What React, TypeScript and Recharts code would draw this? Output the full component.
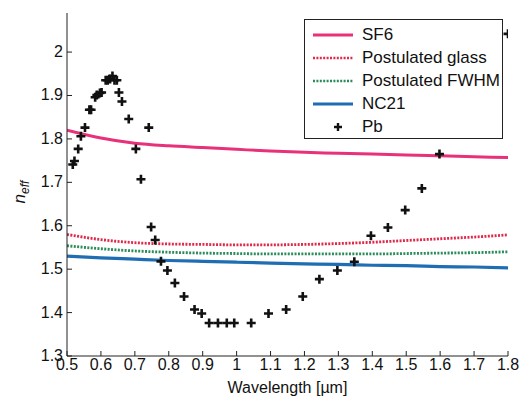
import {
  ComposedChart,
  Line,
  Scatter,
  XAxis,
  YAxis,
} from "recharts";

const wavelengths = [0.5, 0.6, 0.7, 0.8, 0.9, 1.0, 1.1, 1.2, 1.3, 1.4, 1.5, 1.6, 1.7, 1.8];
const sf6 = [1.82, 1.802, 1.79, 1.784, 1.78, 1.776, 1.772, 1.769, 1.767, 1.765, 1.763, 1.761, 1.759, 1.757];
const postGlass = [1.58, 1.568, 1.561, 1.558, 1.557, 1.556, 1.556, 1.557, 1.559, 1.562, 1.566, 1.57, 1.574, 1.579];
const postFwhm = [1.554, 1.547, 1.542, 1.539, 1.537, 1.536, 1.535, 1.535, 1.535, 1.535, 1.536, 1.537, 1.538, 1.54];
const nc21 = [1.53, 1.526, 1.523, 1.52, 1.518, 1.516, 1.514, 1.512, 1.511, 1.509, 1.508, 1.506, 1.505, 1.503];

const pbX = [
  0.517, 0.522, 0.533, 0.541, 0.553, 0.566, 0.571, 0.583, 0.588, 0.597, 0.602,
  0.614, 0.62, 0.627, 0.634, 0.64, 0.647, 0.653, 0.662, 0.682, 0.703, 0.718,
  0.741, 0.748, 0.76, 0.777, 0.796, 0.818, 0.845, 0.876, 0.897, 0.919, 0.945,
  0.971, 0.993, 1.043, 1.094, 1.146, 1.195, 1.244, 1.297, 1.347, 1.396, 1.446,
  1.497, 1.546, 1.598, 1.8,
];
const pbY = [
  1.741, 1.749, 1.777, 1.806, 1.826, 1.867, 1.867, 1.896, 1.901, 1.906, 1.907,
  1.935, 1.935, 1.938, 1.945, 1.935, 1.935, 1.907, 1.886, 1.846, 1.777, 1.707,
  1.826, 1.597, 1.567, 1.518, 1.497, 1.468, 1.437, 1.407, 1.398, 1.376, 1.376,
  1.376, 1.376, 1.376, 1.398, 1.407, 1.437, 1.477, 1.497, 1.517, 1.577, 1.596,
  1.636, 1.686, 1.765, 2.042,
];

const xTicks = [0.5, 0.6, 0.7, 0.8, 0.9, 1.0, 1.1, 1.2, 1.3, 1.4, 1.5, 1.6, 1.7, 1.8];
const yTicks = [1.3, 1.4, 1.5, 1.6, 1.7, 1.8, 1.9, 2.0];

const seriesNames = ["SF6", "Postulated glass", "Postulated FWHM", "NC21", "Pb"];
const seriesColors = ["#e8317a", "#e0284a", "#2a8c5a", "#1f6db3", "#111111"];

const toPoints = (ys: number[]) => wavelengths.map((x, i) => ({ x, y: ys[i] }));
const pbData = pbX.map((x, i) => ({ x, y: pbY[i] }));

const FONT = "'Liberation Sans', Arial, sans-serif";
const AXIS = "#222";

const fmt = (v: number) => (Math.abs(v - Math.round(v)) < 1e-9 ? String(Math.round(v)) : v.toFixed(1));

const BottomTick = (props: any) => {
  const { x, y, payload } = props;
  return (
    <g>
      <line x1={x} x2={x} y1={y} y2={y - 5} stroke={AXIS} />
      <text x={x} y={y + 14} textAnchor="middle" fontSize={16} fontFamily={FONT} fill="#111">
        {fmt(payload.value)}
      </text>
    </g>
  );
};

const TopTick = (props: any) => {
  const { x, y } = props;
  return <line x1={x} x2={x} y1={y} y2={y + 5} stroke={AXIS} />;
};

const LeftTick = (props: any) => {
  const { x, y, payload } = props;
  return (
    <g>
      <line x1={x} x2={x + 5} y1={y} y2={y} stroke={AXIS} />
      <text x={x - 4} y={y + 5} textAnchor="end" fontSize={16} fontFamily={FONT} fill="#111">
        {fmt(payload.value)}
      </text>
    </g>
  );
};

const RightTick = (props: any) => {
  const { x, y } = props;
  return <line x1={x} x2={x - 5} y1={y} y2={y} stroke={AXIS} />;
};

const Plus = (props: any) => {
  const { cx, cy } = props;
  return (
    <path
      d={`M${cx - 4.5},${cy}H${cx + 4.5}M${cx},${cy - 4.5}V${cy + 4.5}`}
      stroke="#111"
      strokeWidth={2.6}
    />
  );
};

const LegendBox = () => (
  <div
    style={{
      position: "absolute",
      left: 304,
      top: 19,
      width: 199,
      height: 120,
      border: "1px solid #222",
      background: "#fff",
      fontFamily: FONT,
      fontSize: 17,
      color: "#111",
      boxSizing: "border-box",
      paddingTop: 3,
    }}
  >
    {seriesNames.map((name, i) => (
      <div key={name} style={{ display: "flex", alignItems: "center", height: 23 }}>
        <svg width={52} height={10} style={{ marginLeft: 6 }}>
          {i === 4 ? (
            <path d="M23,5H31M27,1V9" stroke="#111" strokeWidth={2.4} />
          ) : (
            <line
              x1={2}
              x2={42}
              y1={5}
              y2={5}
              stroke={seriesColors[i]}
              strokeWidth={i === 0 || i === 3 ? 3 : 2.6}
              strokeDasharray={i === 1 || i === 2 ? "2 1.4" : undefined}
            />
          )}
        </svg>
        <span style={{ marginLeft: -1 }}>{name}</span>
      </div>
    ))}
  </div>
);

const NeffLabel = () => (
  <text
    transform="translate(25,192) rotate(-90)"
    textAnchor="middle"
    fontSize={17}
    fontFamily={FONT}
    fill="#111"
  >
    <tspan fontStyle="italic">n</tspan>
    <tspan fontStyle="italic" fontSize={12} dy={4}>eff</tspan>
  </text>
);

export default function App() {
  return (
    <div style={{ position: "absolute", left: 0, top: 0, width: 520, height: 405, background: "#fff" }}>
      <ComposedChart
        width={520}
        height={405}
        margin={{ top: 13, right: 12, bottom: 0, left: 0 }}
      >
        <XAxis
          xAxisId={0}
          type="number"
          dataKey="x"
          domain={[0.5, 1.8]}
          ticks={xTicks}
          allowDataOverflow
          height={49}
          tickSize={0}
          tickMargin={0}
          tick={<BottomTick />}
          stroke={AXIS}
          label={{ value: "Wavelength [µm]", position: "insideBottom", offset: 12, fontSize: 16, fontFamily: FONT, fill: "#111" }}
        />
        <XAxis
          xAxisId="top"
          orientation="top"
          type="number"
          dataKey="x"
          domain={[0.5, 1.8]}
          ticks={xTicks}
          allowDataOverflow
          height={0}
          tickSize={0}
          tickMargin={0}
          tick={<TopTick />}
          stroke={AXIS}
        />
        <YAxis
          yAxisId={0}
          type="number"
          domain={[1.3, 2.09]}
          ticks={yTicks}
          allowDataOverflow
          width={67}
          tickSize={0}
          tickMargin={0}
          tick={<LeftTick />}
          stroke={AXIS}
          label={{ content: () => <NeffLabel /> }}
        />
        <YAxis
          yAxisId="right"
          orientation="right"
          type="number"
          domain={[1.3, 2.09]}
          ticks={yTicks}
          allowDataOverflow
          width={0}
          tickSize={0}
          tickMargin={0}
          tick={<RightTick />}
          stroke={AXIS}
        />
        <Line
          data={toPoints(sf6)}
          dataKey="y"
          type="monotone"
          stroke={seriesColors[0]}
          strokeWidth={3}
          dot={false}
          isAnimationActive={false}
        />
        <Line
          data={toPoints(postGlass)}
          dataKey="y"
          type="monotone"
          stroke={seriesColors[1]}
          strokeWidth={2.8}
          strokeDasharray="2 1.4"
          dot={false}
          isAnimationActive={false}
        />
        <Line
          data={toPoints(postFwhm)}
          dataKey="y"
          type="monotone"
          stroke={seriesColors[2]}
          strokeWidth={2.8}
          strokeDasharray="2 1.4"
          dot={false}
          isAnimationActive={false}
        />
        <Line
          data={toPoints(nc21)}
          dataKey="y"
          type="monotone"
          stroke={seriesColors[3]}
          strokeWidth={3.2}
          dot={false}
          isAnimationActive={false}
        />
        <Scatter data={pbData} dataKey="y" shape={<Plus />} isAnimationActive={false} />
      </ComposedChart>
      <LegendBox />
    </div>
  );
}
